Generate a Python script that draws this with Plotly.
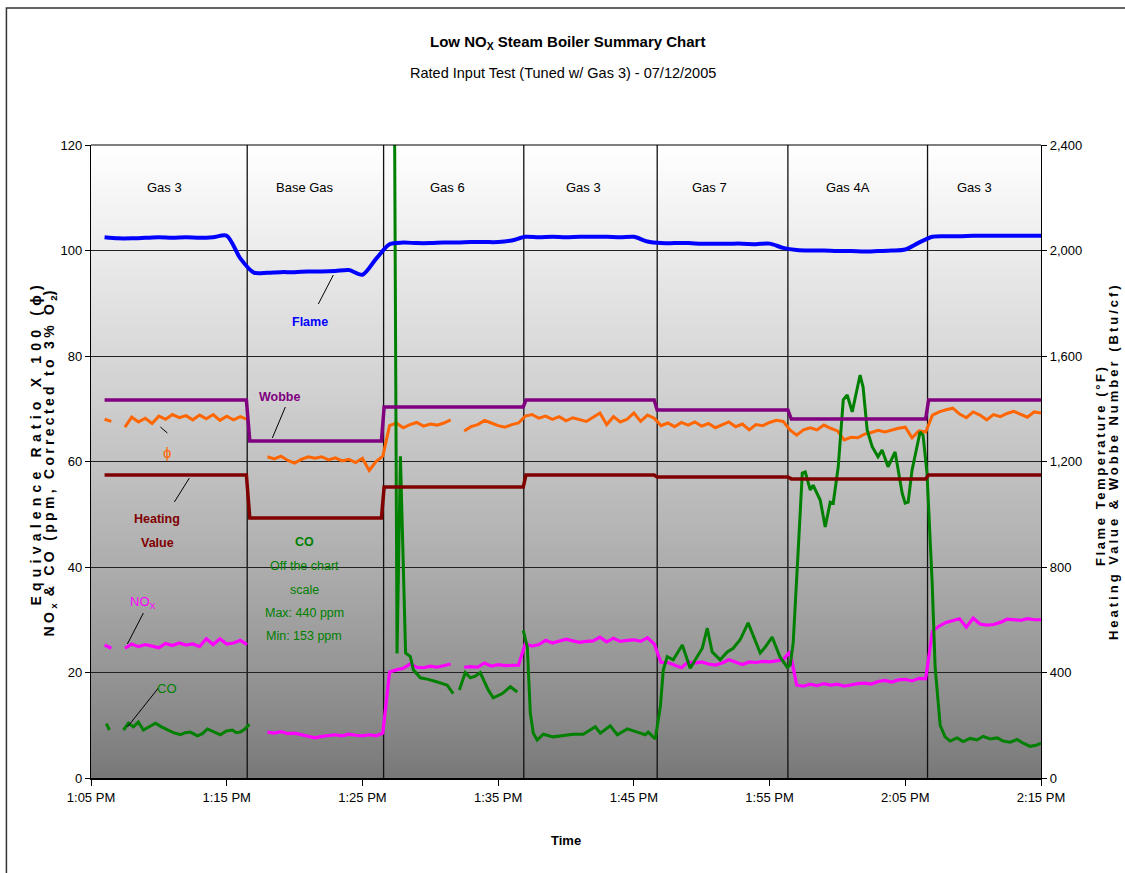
import plotly.graph_objects as go
from datetime import datetime, timedelta

# ---------------- data ----------------
gas_names = ["Gas 3", "Base Gas", "Gas 6", "Gas 3", "Gas 7", "Gas 4A", "Gas 3"]
gas_label_min = [5.4, 15.8, 26.3, 36.3, 45.6, 55.8, 65.1]
gas_bounds_min = [11.51, 21.56, 31.89, 41.72, 51.35, 61.64]
tick_min = [0, 10, 20, 30, 40, 50, 60, 70]
tick_labels = ["1:05 PM", "1:15 PM", "1:25 PM", "1:35 PM", "1:45 PM",
               "1:55 PM", "2:05 PM", "2:15 PM"]

# Flame temperature (deg F), one reading per minute from 1:06 PM
flame_min = list(range(1, 71))
flame_f = [2050, 2046, 2046, 2048, 2050, 2048, 2050, 2048, 2050, 2056,
           1970, 1916, 1916, 1918, 1918, 1920, 1920, 1922, 1926, 1908,
           1968, 2024, 2030, 2028, 2028, 2030, 2030, 2032, 2032, 2032,
           2038, 2052, 2050, 2052, 2050, 2052, 2052, 2052, 2050, 2052,
           2034, 2028, 2028, 2028, 2026, 2026, 2026, 2026, 2024, 2026,
           2010, 2002, 2000, 2000, 1998, 1998, 1996, 1998, 2000, 2004,
           2030, 2052, 2054, 2054, 2056, 2056, 2056, 2056, 2056, 2056]

# Wobbe number and heating value (Btu/cf)
step_min = [1, 11.45, 11.7, 21.4, 21.6, 31.85, 32.05, 41.5, 41.72,
            51.35, 51.6, 61.5, 61.72, 70]
wobbe_v = [1433, 1433, 1278, 1278, 1407, 1407, 1433, 1433, 1395, 1395,
           1361, 1361, 1433, 1433]
hv_v = [1149, 1149, 986, 986, 1103, 1103, 1149, 1149, 1141, 1141,
        1134, 1134, 1149, 1149]

# Half-minute readings from 1:06 PM
grid_min = [1 + 0.5 * i for i in range(139)]
phi_x100 = [68.0, 67.6, None, 66.5, 68.4, 67.5, 68.2, 67.2, 68.6, 68.0,
            68.9, 68.3, 68.7, 67.9, 68.8, 68.1, 68.9, 67.8, 68.6, 67.9,
            68.5, 68.0, None, None, 60.9, 60.5, 61.0, 60.2, 59.7, 60.4,
            60.9, 60.6, 60.9, 60.3, 60.7, 60.1, 60.4, 59.8, 60.6, 58.3,
            60.0, 61.0, 66.8, 67.3, 66.4, 67.0, 67.4, 66.7, 67.1, 66.9,
            67.3, 67.9, None, 65.8, 66.6, 67.0, 67.8, 67.3, 66.8, 66.5,
            67.0, 67.3, 68.6, 68.9, 68.2, 68.6, 68.0, 68.5, 67.7, 68.3,
            68.0, 67.6, 68.4, 69.2, 67.0, 68.5, 67.5, 68.0, 69.2, 67.6,
            68.8, 68.2, 66.8, 67.3, 66.6, 67.4, 66.9, 67.5, 66.7, 67.2,
            66.4, 67.0, 67.5, 66.6, 67.1, 66.0, 67.0, 66.8, 67.4, 67.8,
            67.6, 66.0, 65.0, 66.0, 66.4, 66.0, 66.9, 66.3, 65.8, 64.1,
            64.6, 64.5, 65.2, 65.5, 65.9, 65.6, 66.0, 66.3, 66.5, 64.5,
            65.8, 65.6, 68.8, 69.4, 69.8, 70.1, 69.0, 68.3, 69.4, 68.8,
            67.9, 68.9, 68.5, 69.1, 69.5, 68.9, 68.4, 69.4, 69.2]
nox_ppm = [25.2, 24.6, None, 24.6, 25.4, 24.9, 25.3, 25.0, 24.7, 25.5,
           25.1, 25.6, 25.2, 25.4, 24.9, 26.4, 25.3, 26.4, 25.4, 25.6,
           26.1, 25.3, None, None, 8.7, 8.5, 8.8, 8.4, 8.5, 8.2,
           8.0, 7.6, 7.9, 8.1, 8.2, 8.0, 8.3, 8.1, 8.0, 8.2,
           8.0, 8.5, 20.1, 20.5, 20.8, 21.6, 21.0, 20.9, 21.2, 21.0,
           21.3, 21.6, None, 21.0, 21.1, 21.0, 21.8, 21.2, 21.5, 21.3,
           21.4, 21.4, 25.5, 25.0, 25.3, 26.1, 25.6, 25.9, 26.3, 26.0,
           25.7, 25.9, 26.0, 26.7, 25.8, 26.5, 25.9, 26.1, 26.2, 25.9,
           26.6, 25.4, 21.9, 21.9, 21.4, 20.9, 22.0, 21.8, 22.0, 21.6,
           21.4, 21.8, 22.4, 21.9, 21.5, 22.0, 21.9, 22.1, 22.0, 22.2,
           22.4, 24.0, 17.6, 17.4, 17.8, 17.5, 17.9, 17.6, 17.8, 17.4,
           17.7, 17.9, 18.0, 17.8, 18.3, 18.5, 18.2, 18.6, 18.7, 18.4,
           18.9, 18.8, 27.8, 28.8, 29.5, 29.8, 30.2, 28.6, 30.3, 29.2,
           29.0, 29.1, 29.5, 30.1, 30.0, 29.9, 30.2, 30.0, 30.0]

# CO (ppm); base-gas readings (153-440 ppm) are off the chart scale
co_min = [1.13, 1.36, 1.7,
          2.39, 2.76, 3.12, 3.49, 3.86, 4.30, 4.75, 5.19, 5.63, 6.07, 6.59,
          6.95, 7.32, 7.84, 8.21, 8.58, 9.09, 9.53, 9.98, 10.41, 10.71,
          11.0, 11.3, 11.67, 12.0,
          22.05, 22.55, 22.8, 23.18, 23.53, 23.75, 24.27, 24.85, 25.52,
          26.25, 26.69, 26.9,
          27.14, 27.58, 27.95, 28.32, 28.68, 29.27, 29.64, 30.01, 30.31,
          30.9, 31.41, 31.6,
          31.85, 32.15, 32.37, 32.59, 32.88, 33.33, 34.06, 34.8, 35.53,
          36.27, 37.16, 37.53, 38.26, 38.78, 39.52, 40.25, 40.84, 41.06,
          41.58, 41.95, 42.17, 42.46, 42.9, 43.57, 44.15, 44.74, 45.04,
          45.41, 45.77, 46.36, 46.88, 47.32, 47.83, 48.42, 49.31, 49.68,
          50.19, 50.78, 51.3, 51.52, 51.74, 52.11, 52.41, 52.63, 53.0,
          53.21, 53.73, 54.1, 54.47, 54.69, 55.06, 55.43, 55.72, 56.09,
          56.31, 56.67, 56.89, 57.19, 57.56, 57.99, 58.29, 58.73, 59.25,
          59.77, 59.99, 60.21, 60.5, 61.09, 61.31, 61.6, 61.98, 62.2,
          62.57, 62.93, 63.3, 63.82, 64.26, 64.78, 65.29, 65.74, 66.25,
          66.77, 67.21, 67.73, 68.24, 68.69, 69.2, 69.64, 70.0]
co_ppm = [10.3, 9.1, None,
          9.1, 10.4, 9.7, 10.6, 9.1, 9.8, 10.4, 9.7, 9.1, 8.6, 8.2,
          8.6, 8.7, 8.0, 8.4, 9.3, 8.7, 8.2, 8.9, 9.1, 8.6,
          8.7, 9.2, 10.2, None,
          300, 23.6, 61.0, 23.7, 23.0, 20.5, 19.0, 18.7, 18.2,
          17.6, 16.0, None,
          16.7, 20.0, 19.0, 19.3, 20.0, 16.7, 15.2, 15.6, 16.0,
          17.3, 16.3, None,
          28.0, 24.8, 12.3, 8.5, 7.2, 8.3, 7.8, 8.0, 8.3,
          8.3, 9.7, 8.5, 9.9, 8.2, 9.3, 8.7, 8.2, 8.7,
          7.4, 13.5, 20.5, 23.0, 22.4, 25.2, 20.8, 23.3, 24.6,
          28.4, 23.9, 22.4, 23.9, 24.6, 26.2, 29.4, 23.7, 24.8,
          26.7, 22.9, 21.0, 21.4, 25.6, 43.2, 57.8, 58.0, 54.6,
          55.5, 52.7, 47.6, 52.3, 52.1, 59.0, 71.7, 72.6, 69.4,
          72.2, 76.4, 74.1, 66.0, 62.8, 60.9, 62.2, 59.0, 61.8,
          54.0, 52.1, 52.3, 58.4, 65.6, 65.0, 57.8, 37.0, 21.0,
          10.0, 7.8, 7.0, 7.6, 6.9, 7.5, 7.2, 7.9, 7.4,
          7.6, 7.0, 6.8, 7.3, 6.6, 6.0, 6.2, 6.6]

# ---------------- helpers ----------------
BASE = datetime(2005, 7, 12, 13, 5)


def at(m):
    return BASE + timedelta(minutes=m)


def P(px, py):
    """reference pixel -> paper coordinates of the plot area"""
    return (px - 90.6) / 950.3, (778 - py) / 633.0


FONT = "Liberation Sans, Arial, sans-serif"

fig = go.Figure()

# ---------------- traces ----------------
fig.add_trace(go.Scatter(x=[at(m) for m in grid_min], y=phi_x100, mode="lines",
                         line=dict(color="#FF6600", width=3), name="phi",
                         connectgaps=False))
fig.add_trace(go.Scatter(x=[at(m) for m in grid_min], y=nox_ppm, mode="lines",
                         line=dict(color="#FF00FF", width=3.2), name="NOx",
                         connectgaps=False))
fig.add_trace(go.Scatter(x=[at(m) for m in co_min], y=co_ppm, mode="lines",
                         line=dict(color="#008000", width=3), name="CO",
                         connectgaps=False))
fig.add_trace(go.Scatter(x=[at(m) for m in step_min], y=hv_v, mode="lines",
                         line=dict(color="#800000", width=3.5), name="HV",
                         yaxis="y2"))
fig.add_trace(go.Scatter(x=[at(m) for m in step_min], y=wobbe_v, mode="lines",
                         line=dict(color="#800080", width=3.5), name="Wobbe",
                         yaxis="y2"))
fig.add_trace(go.Scatter(x=[at(m) for m in flame_min], y=flame_f, mode="lines",
                         line=dict(color="#0000FF", width=4, shape="spline",
                                   smoothing=0.8),
                         name="Flame", yaxis="y2"))

# ---------------- shapes ----------------
shapes = []
N = 120
for k in range(N):
    f = (k + 0.5) / N
    g = int(round(119 + 136 * f ** 0.85))
    shapes.append(dict(type="rect", xref="paper", yref="paper",
                       x0=0, x1=1, y0=k / N, y1=min(1.0, (k + 1) / N + 0.004),
                       fillcolor=f"rgb({g},{g},{g})", line=dict(width=0),
                       layer="below"))
for m in gas_bounds_min:
    shapes.append(dict(type="line", xref="x", yref="paper", x0=at(m), x1=at(m),
                       y0=0, y1=1, line=dict(color="#111111", width=1.3),
                       layer="below"))

# leader lines (reference pixel positions)
leaders = [((318, 304), (333, 275)),
           ((285, 407), (272, 438)),
           ((160, 427), (167, 433)),
           ((189, 478), (174, 502)),
           ((143, 613), (127, 644)),
           ((158, 688), (127, 727))]
for (a, b) in leaders:
    x0, y0 = P(*a)
    x1, y1 = P(*b)
    shapes.append(dict(type="line", xref="paper", yref="paper",
                       x0=x0, y0=y0, x1=x1, y1=y1,
                       line=dict(color="black", width=1)))

# outer frame
fx0, fy1 = P(6, 8)
fx1, fy0 = P(1135, 890)
shapes.append(dict(type="rect", xref="paper", yref="paper", x0=fx0, x1=fx1,
                   y0=fy0, y1=fy1, line=dict(color="#333333", width=1.5)))
# top border of plot area
shapes.append(dict(type="line", xref="paper", yref="paper", x0=0, x1=1,
                   y0=1, y1=1, line=dict(color="black", width=1.2)))

# ---------------- annotations ----------------
ann = []


def label(text, px, py, color="black", size=13, angle=0):
    x, y = P(px, py)
    ann.append(dict(text=text, x=x, y=y, xref="paper", yref="paper",
                    showarrow=False, xanchor="center", yanchor="middle",
                    textangle=angle, font=dict(family=FONT, size=size,
                                               color=color)))


for name, m in zip(gas_names, gas_label_min):
    ann.append(dict(text=name, x=at(m), y=112, xref="x", yref="y",
                    showarrow=False, xanchor="center", yanchor="middle",
                    font=dict(family=FONT, size=13, color="black")))

label("<b>Low NO<sub>X</sub> Steam Boiler Summary Chart</b>", 567, 43, size=15)
label("Rated Input Test (Tuned w/ Gas 3) - 07/12/2005", 563, 73, size=14.5)

label("<b>Flame</b>", 310, 322, color="#0000FF", size=12.5)
label("<b>Wobbe</b>", 279, 397, color="#800080", size=12.5)
label("ϕ", 167, 452, color="#FF6600", size=15)
label("<b>Heating</b>", 157, 519, color="#800000", size=12.5)
label("<b>Value</b>", 157, 543, color="#800000", size=12.5)
label("<b>CO</b>", 304, 542, color="#008000", size=12.5)
label("Off the chart", 304, 566, color="#008000", size=12.5)
label("scale", 304, 590, color="#008000", size=12.5)
label("Max: 440 ppm", 304, 613, color="#008000", size=12.5)
label("Min: 153 ppm", 304, 636, color="#008000", size=12.5)
label("NO<sub>X</sub>", 143, 602, color="#FF00FF", size=13)
label("CO", 167, 688, color="#008000", size=13)

ls1 = "letter-spacing:5.2px"
ls2 = "letter-spacing:3.3px"
label(f"<b><span style='{ls1}'>Equivalence Ratio X 100 (ϕ)</span></b>",
      36, 443, size=14, angle=-90)
label(f"<b><span style='{ls2}'>NO</span><sub>x</sub>"
      f"<span style='{ls2}'> &amp; CO (ppm, Corrected to 3% O</span>"
      f"<sub>2</sub><span style='{ls2}'>)</span></b>",
      50, 462, size=14, angle=-90)
label("<b><span style='letter-spacing:2.6px'>Flame Temperature (°F)</span></b>",
      1100, 465, size=13, angle=-90)
label("<b><span style='letter-spacing:3.0px'>Heating Value &amp; Wobbe Number (Btu/cf)</span></b>",
      1113, 461, size=13, angle=-90)
label("<b>Time</b>", 566, 840, size=13)

# ---------------- layout ----------------
fig.update_layout(
    width=1125, height=873,
    margin=dict(l=91, r=84, t=145, b=95, pad=0),
    paper_bgcolor="white", plot_bgcolor="white",
    showlegend=False,
    font=dict(family=FONT, size=13, color="black"),
    shapes=shapes, annotations=ann,
    xaxis=dict(type="date", range=[at(0), at(70)],
               tickvals=[at(m) for m in tick_min], ticktext=tick_labels,
               ticks="outside", ticklen=6, tickcolor="black", tickwidth=1,
               showline=True, linecolor="black", linewidth=2, mirror=False,
               showgrid=False, zeroline=False,
               tickfont=dict(family=FONT, size=13)),
    yaxis=dict(range=[0, 120], tickvals=[0, 20, 40, 60, 80, 100, 120],
               ticks="outside", ticklen=5, tickcolor="black",
               showline=True, linecolor="black", linewidth=1.2,
               showgrid=True, gridcolor="#222222", gridwidth=1,
               zeroline=False, tickfont=dict(family=FONT, size=13)),
    yaxis2=dict(range=[0, 2400], tickvals=[0, 400, 800, 1200, 1600, 2000, 2400],
                tickformat=",d", overlaying="y", side="right",
                ticks="outside", ticklen=5, tickcolor="black",
                showline=True, linecolor="black", linewidth=1.2,
                showgrid=False, zeroline=False,
                tickfont=dict(family=FONT, size=13)),
)

fig.write_html("out.html", config={"displayModeBar": False},
               post_script="document.body.style.margin='0';")
